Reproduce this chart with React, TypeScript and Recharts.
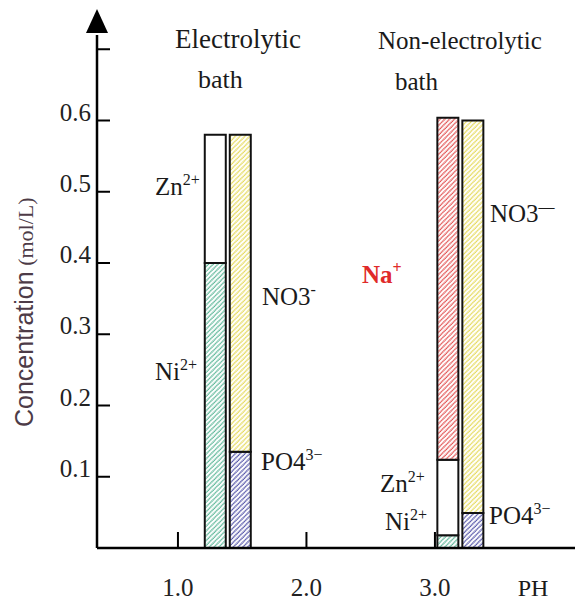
import { BarChart, Bar, XAxis, YAxis, ReferenceDot } from 'recharts';

// concentration (mol/L) of each ion in the two baths
const baths = ['Electrolytic bath', 'Non-electrolytic bath'];
const bathPH = [1.39, 3.2];
const ni = [0.4, 0.018];
const zn = [0.18, 0.106];
const na = [0, 0.48];
const po4 = [0.135, 0.049];
const no3 = [0.445, 0.551];

const xTicks = [1, 2, 3];
const xLabels = ['1.0', '2.0', '3.0'];
const yTicks = [0.1, 0.2, 0.3, 0.4, 0.5, 0.6, 0.7];
const yLabels = ['0.1', '0.2', '0.3', '0.4', '0.5', '0.6', ''];

const data = baths.map((name, i) => ({
  name,
  ph: bathPH[i],
  ni: ni[i],
  zn: zn[i],
  na: na[i],
  po4: po4[i],
  no3: no3[i],
}));

const SERIF = "'Liberation Serif', 'Times New Roman', serif";
const SANS = "'Liberation Sans', Arial, sans-serif";

function XTick({ x, y, payload }: any) {
  const label = xLabels[xTicks.indexOf(payload.value)];
  return (
    <g>
      <line x1={x} x2={x} y1={y} y2={y - 16} stroke="#000" strokeWidth={2} />
      <text x={x} y={y + 48} textAnchor="middle" fontFamily={SERIF} fontSize={25} fill="#222">
        {label}
      </text>
    </g>
  );
}

function YTick({ x, y, payload }: any) {
  const label = yLabels[yTicks.indexOf(payload.value)];
  return (
    <g>
      <line x1={x} x2={x + 13} y1={y} y2={y} stroke="#000" strokeWidth={2} />
      <text x={x - 6} y={y} textAnchor="end" fontFamily={SERIF} fontSize={25} fill="#222">
        {label}
      </text>
    </g>
  );
}

function Arrow({ cx, cy }: any) {
  return <polygon points={`${cx - 11},${cy - 2} ${cx},${cy - 26} ${cx + 11},${cy - 2}`} fill="#000" />;
}

function hatch(id: string, color: string) {
  return (
    <pattern id={id} width="3.4" height="3.4" patternUnits="userSpaceOnUse" patternTransform="rotate(45)">
      <rect width="3.4" height="3.4" fill="#fff" />
      <line x1="1" y1="0" x2="1" y2="3.4" stroke={color} strokeWidth="1.5" strokeDasharray="1.2 0.5" />
    </pattern>
  );
}

function Ion({ x, y, base, sup, color = '#1a1a1a', bold = false }: any) {
  return (
    <text x={x} y={y} fontFamily={SERIF} fontSize={25} fill={color} fontWeight={bold ? 'bold' : 'normal'}>
      {base}
      <tspan dy={-10} fontSize={16}>{sup}</tspan>
    </text>
  );
}

export default function App() {
  return (
    <div style={{ position: 'absolute', left: 0, top: 0, width: 575, height: 605, background: '#fff' }}>
      <BarChart
        width={575}
        height={605}
        data={data}
        margin={{ top: 35, right: 0, bottom: 0, left: 37 }}
        barSize={21}
        barGap={4}
      >
        <defs>
          {hatch('hGreen', '#55b493')}
          {hatch('hYellow', '#e4d851')}
          {hatch('hBlue', '#4c4ca4')}
          {hatch('hRed', '#e04a4a')}
        </defs>
        <XAxis
          type="number"
          dataKey="ph"
          domain={[0.37, 4.09]}
          allowDataOverflow
          ticks={xTicks}
          height={57}
          tickSize={0}
          tickMargin={0}
          tickLine={false}
          tick={<XTick />}
          axisLine={{ stroke: '#000', strokeWidth: 2.5 }}
        />
        <YAxis
          type="number"
          domain={[0, 0.72]}
          allowDataOverflow
          ticks={yTicks}
          width={60}
          tickSize={0}
          tickMargin={0}
          tickLine={false}
          tick={<YTick />}
          axisLine={{ stroke: '#000', strokeWidth: 2.5 }}
        />
        <Bar dataKey="ni" stackId="cation" fill="url(#hGreen)" stroke="#111" strokeWidth={2} isAnimationActive={false} />
        <Bar dataKey="zn" stackId="cation" fill="#fff" stroke="#111" strokeWidth={2} isAnimationActive={false} />
        <Bar dataKey="na" stackId="cation" fill="url(#hRed)" stroke="#111" strokeWidth={2} isAnimationActive={false} />
        <Bar dataKey="po4" stackId="anion" fill="url(#hBlue)" stroke="#111" strokeWidth={2} isAnimationActive={false} />
        <Bar dataKey="no3" stackId="anion" fill="url(#hYellow)" stroke="#111" strokeWidth={2} isAnimationActive={false} />
        <ReferenceDot x={0.37} y={0.72} ifOverflow="visible" shape={<Arrow />} />
      </BarChart>
      <svg
        width={575}
        height={605}
        style={{ position: 'absolute', left: 0, top: 0, pointerEvents: 'none' }}
      >
        <text x={33} y={427} transform="rotate(-90, 33, 427)" fill="#4d3b47">
          <tspan fontFamily={SANS} fontSize={25}>Concentration</tspan>
          <tspan fontFamily={SERIF} fontSize={22}> (mol/L)</tspan>
        </text>
        <text x={175} y={48} fontFamily={SERIF} fontSize={27} fill="#1a1a1a">Electrolytic</text>
        <text x={198} y={88} fontFamily={SERIF} fontSize={26} fill="#1a1a1a">bath</text>
        <text x={378} y={49} fontFamily={SERIF} fontSize={25} fill="#1a1a1a">Non-electrolytic</text>
        <text x={395} y={90} fontFamily={SERIF} fontSize={25} fill="#1a1a1a">bath</text>
        <Ion x={155} y={195} base="Zn" sup="2+" />
        <Ion x={155} y={380} base="Ni" sup="2+" />
        <Ion x={262} y={305} base="NO3" sup="-" />
        <Ion x={261} y={470} base="PO4" sup="3−" />
        <Ion x={362} y={283} base="Na" sup="+" color="#e02a2a" bold />
        <Ion x={490} y={222} base="NO3" sup="—" />
        <Ion x={380} y={492} base="Zn" sup="2+" />
        <Ion x={385} y={530} base="Ni" sup="2+" />
        <Ion x={489} y={524} base="PO4" sup="3−" />
        <text x={533} y={596} textAnchor="middle" fontFamily={SERIF} fontSize={24} fill="#1a1a1a">PH</text>
      </svg>
    </div>
  );
}
